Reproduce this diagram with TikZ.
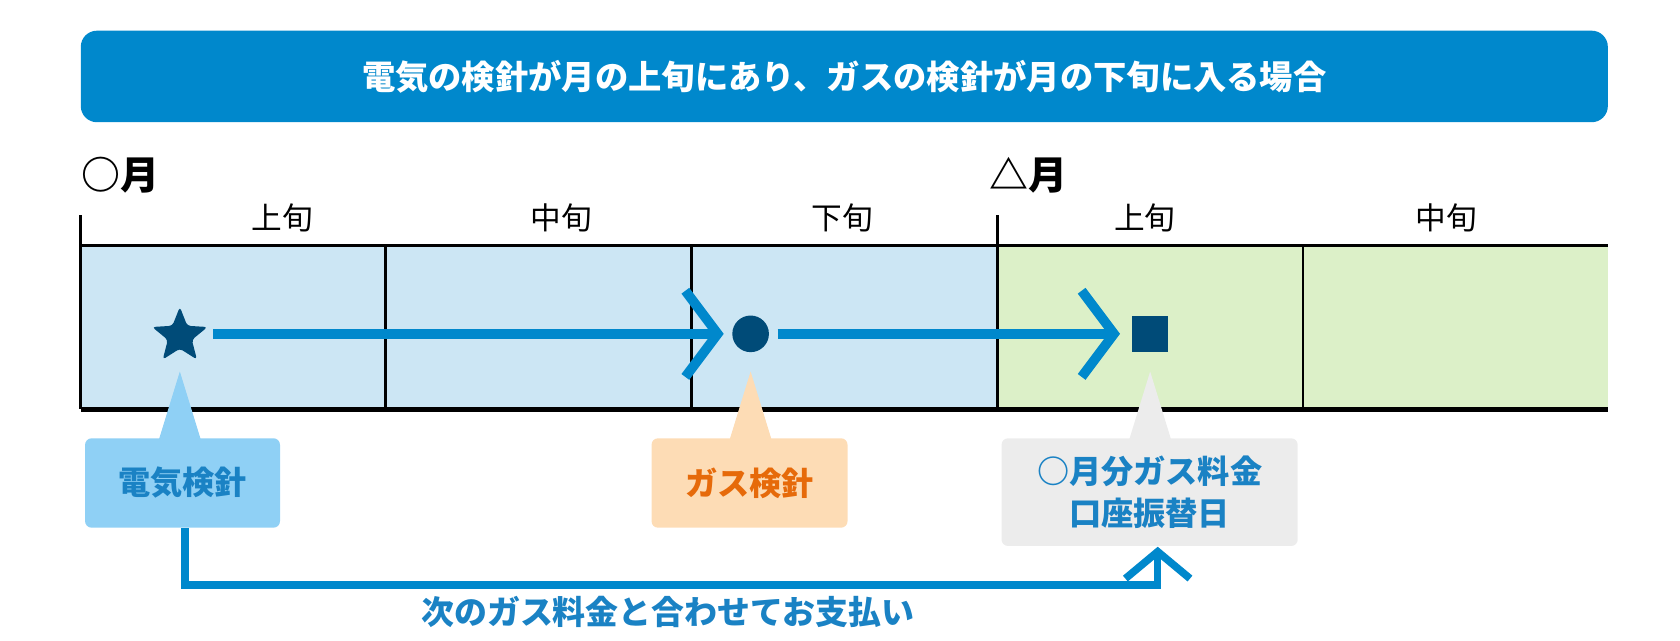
\documentclass[tikz,border=0pt]{standalone}
\usepackage{fontspec}
\setmainfont{Noto Sans CJK JP}
\usetikzlibrary{arrows.meta,positioning,shapes.geometric,calc}
\definecolor{barblue}{HTML}{0088CC}
\definecolor{txtblue}{HTML}{1A82C4}
\definecolor{markdark}{HTML}{004B78}
\definecolor{cellblue}{HTML}{CCE6F4}
\definecolor{cellgreen}{HTML}{DCF0C8}
\definecolor{boxblue}{HTML}{8FD0F5}
\definecolor{boxorange}{HTML}{FDDCB5}
\definecolor{boxgray}{HTML}{ECECEC}
\definecolor{txtorange}{HTML}{E66A0A}

\begin{document}
\begin{tikzpicture}[
    x=0.1mm, y=-0.1mm,
    colhead/.style={font=\fontsize{8.1}{9}\selectfont, anchor=base},
    month/.style={font=\bfseries\fontsize{10.3}{11}\selectfont, anchor=west, inner sep=0pt},
    callout/.style={rounded corners=0.6mm, inner sep=0pt, font=\bfseries\fontsize{8.5}{11}\selectfont, align=center},
    myarrow/.style={-{Straight Barb[length=3mm,width=8mm]}, line width=0.9mm, draw=barblue},
    mymark/.style={fill=markdark, draw=none}
    ]
    \useasboundingbox (0,0) rectangle (1560,595);
    % title
    \node[fill=barblue, rounded corners=1.5mm, minimum width=141.8mm, minimum height=8.5mm,
          text=white, font=\bfseries\fontsize{8.8}{10}\selectfont] (title) at (784,71)
          {電気の検針が月の上旬にあり、ガスの検針が月の下旬に入る場合};
    % cells
    \fill[cellblue] (75,228) rectangle (926,380);
    \fill[cellgreen] (926,228) rectangle (1493,380);
    \draw[line width=0.3mm] (75,228) -- (1493,228);
    \draw[line width=0.45mm] (75,380) -- (1493,380);
    \draw[line width=0.3mm] (75,200) -- (75,380);
    \draw[line width=0.3mm] (926,200) -- (926,380);
    \foreach \x in {358,642,1210}
      \draw[line width=0.25mm] (\x,228) -- (\x,380);
    % month labels
    \node[month] (m1) at (75,163) {○月};
    \node[month] (m2) at (918,163) {△月};
    \foreach \x/\t in {262/上旬,521/中旬,782/下旬,1063/上旬,1343/中旬}
      \node[colhead] at (\x,213) {\t};
    % marks
    \node[mymark, star, star points=5, star point ratio=2.3, minimum size=5.4mm, inner sep=0pt, rounded corners=0.3mm] (star) at (167,312) {};
    \node[mymark, circle, minimum size=3.4mm, inner sep=0pt] (dot) at (697,310) {};
    \node[mymark, rectangle, minimum size=3.3mm, inner sep=0pt] (sq) at (1068,310) {};
    \draw[myarrow] (198,310) -- (672,310);
    \draw[myarrow] (722,310) -- (1040,310);
    % callouts
    \node[callout, fill=boxblue, text=txtblue, minimum width=18.1mm, minimum height=8.3mm] (elec) at (169.5,448.5) {電気検針};
    \node[callout, fill=boxorange, text=txtorange, minimum width=18.2mm, minimum height=8.3mm] (gas) at (696,448.5) {ガス検針};
    \node[callout, fill=boxgray, text=txtblue, minimum width=27.5mm, minimum height=10mm] (pay) at (1067.5,457) {○月分ガス料金\\口座振替日};
    \fill[boxblue] (167,345) -- (147,410) -- (187,410) -- cycle;
    \fill[boxorange] (697,345) -- (677,410) -- (717,410) -- cycle;
    \fill[boxgray] (1068,345) -- (1048,410) -- (1088,410) -- cycle;
    % payment connector
    \coordinate (bend1) at (172,543);
    \coordinate (bend2) at (1075,543);
    \draw[myarrow, line width=0.7mm, -{Straight Barb[length=2.5mm,width=6mm]}]
      (elec.south -| bend1) -- (bend1) -- (bend2) -- (pay.south -| bend2);
    \node[font=\bfseries\fontsize{8.7}{10}\selectfont, text=txtblue] (note) at (620,568) {次のガス料金と合わせてお支払い};
\end{tikzpicture}
\end{document}
